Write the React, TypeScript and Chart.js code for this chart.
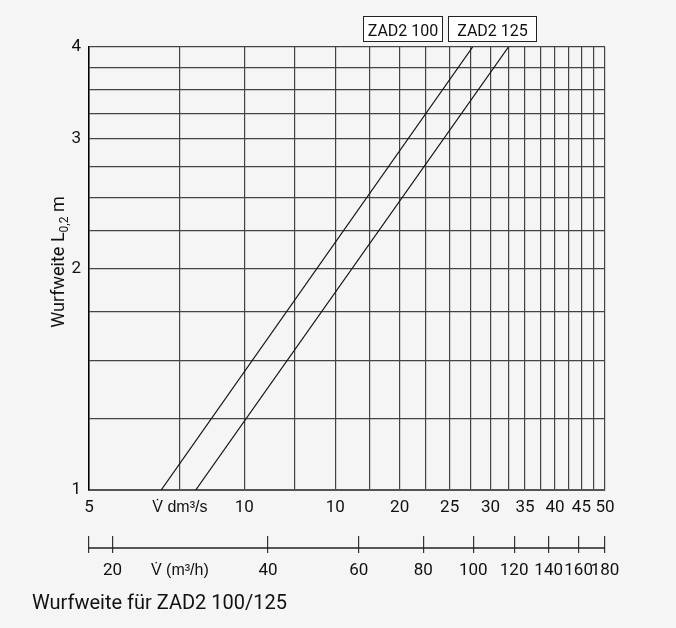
import { useEffect, useRef } from "react";
import { Chart, registerables } from "chart.js";

Chart.register(...registerables);

const FONT = "Roboto, 'Liberation Sans', sans-serif";
const DOT_FONT = "'Liberation Sans', 'DejaVu Sans', sans-serif";

// Flow rate (dm³/s) gridlines and labels
const flowGrid = [5, 7.5, 10, 12.5, 15, 17.5, 20, 22.5, 25, 27.5, 30, 32.5, 35, 37.5, 40, 42.5, 45, 47.5, 50];
const flowLabels = ["5", "V̇ dm³/s", "10", "", "10", "", "20", "", "25", "", "30", "", "35", "", "40", "", "45", "", "50"];

// Secondary flow axis (m³/h)
const m3hTicks = [18, 20, 27, 40, 60, 80, 100, 120, 140, 160, 180];
const m3hLabels = ["", "20", "V̇ (m³/h)", "40", "60", "80", "100", "120", "140", "160", "180"];

// Throw distance (m)
const throwGrid = [1, 1.25, 1.5, 1.75, 2, 2.25, 2.5, 2.75, 3, 3.25, 3.5, 3.75, 4];
const throwLabels = ["1", "", "", "", "2", "", "", "", "3", "", "", "", "4"];

// Series
const seriesNames = ["ZAD2 100", "ZAD2 125"];
const zad100 = [
  { x: 6.9, y: 1 },
  { x: 27.7, y: 4 },
];
const zad125 = [
  { x: 8.05, y: 1 },
  { x: 32.5, y: 4 },
];

const caption = "Wurfweite für ZAD2 100/125";

const decorPlugin = {
  id: "decor",
  beforeDraw(chart: any) {
    const ctx = chart.ctx;
    ctx.save();
    ctx.fillStyle = "#f5f5f5";
    ctx.fillRect(0, 0, chart.width, chart.height);
    ctx.restore();
  },
  afterDraw(chart: any) {
    const ctx = chart.ctx;
    const x2 = chart.scales.x2;
    const y = chart.scales.y;
    ctx.save();
    // secondary axis line
    ctx.strokeStyle = "#222";
    ctx.lineWidth = 1.6;
    ctx.beginPath();
    ctx.moveTo(x2.left - 1, x2.top + 12);
    ctx.lineTo(x2.right, x2.top + 12);
    ctx.stroke();

    // y axis title with subscript
    ctx.fillStyle = "#111";
    ctx.textBaseline = "alphabetic";
    const bigFont = "18px " + FONT;
    const smallFont = "12px " + FONT;
    ctx.font = bigFont;
    const p1 = "Wurfweite L";
    const p3 = " m";
    const w1 = ctx.measureText(p1).width;
    const w3 = ctx.measureText(p3).width;
    ctx.font = smallFont;
    const p2 = "0,2";
    const w2 = ctx.measureText(p2).width;
    const total = w1 + w2 + w3;
    ctx.translate(y.left + 64, 262);
    ctx.rotate(-Math.PI / 2);
    let cx = -total / 2;
    ctx.font = bigFont;
    ctx.fillText(p1, cx, 0);
    cx += w1;
    ctx.font = smallFont;
    ctx.fillText(p2, cx, 4);
    cx += w2;
    ctx.font = bigFont;
    ctx.fillText(p3, cx, 0);
    ctx.setTransform(1, 0, 0, 1, 0, 0);

    // series label boxes
    ctx.font = "16px " + FONT;
    ctx.textBaseline = "alphabetic";
    ctx.textAlign = "center";
    ctx.strokeStyle = "#222";
    ctx.lineWidth = 1;
    const b0x = 363;
    const b0w = 79;
    const b1x = 448;
    const b1w = 88;
    ctx.fillStyle = "#ffffff";
    ctx.fillRect(b0x, 16, b0w, 25);
    ctx.fillRect(b1x, 16, b1w, 25);
    ctx.strokeRect(b0x + 0.5, 16.5, b0w, 25);
    ctx.strokeRect(b1x + 0.5, 16.5, b1w, 25);
    ctx.fillStyle = "#111";
    ctx.fillText(seriesNames[0], b0x + b0w / 2 + 0.5, 36);
    ctx.fillText(seriesNames[1], b1x + b1w / 2 + 0.5, 36);

    // caption
    ctx.textAlign = "left";
    ctx.font = "20px " + FONT;
    ctx.fillStyle = "#111";
    ctx.fillText(caption, 32, 609);
    ctx.restore();
  },
};

export default function App() {
  const ref = useRef<HTMLCanvasElement | null>(null);
  useEffect(() => {
    if (!ref.current) return;
    const tickFont = { family: FONT, size: 17 };
    const labelFont = (labels: string[]) => (c: any) =>
      labels[c.index] && labels[c.index].indexOf("V") === 0
        ? { family: DOT_FONT, size: 16 }
        : tickFont;
    const chart = new Chart(ref.current, {
      type: "line",
      data: {
        datasets: [
          {
            label: seriesNames[0],
            data: zad100,
            borderColor: "#111",
            borderWidth: 1.2,
            pointRadius: 0,
            xAxisID: "x",
            yAxisID: "y",
          },
          {
            label: seriesNames[1],
            data: zad125,
            borderColor: "#111",
            borderWidth: 1.2,
            pointRadius: 0,
            xAxisID: "x",
            yAxisID: "y",
          },
        ],
      },
      options: {
        animation: false,
        responsive: false,
        layout: { padding: { left: 0, right: 71, top: 47, bottom: 42 } },
        plugins: {
          legend: { display: false },
          tooltip: { enabled: false },
        },
        scales: {
          x: {
            type: "logarithmic",
            position: "bottom",
            min: 5,
            max: 50,
            afterBuildTicks: (s: any) => {
              s.ticks = flowGrid.map((v) => ({ value: v }));
            },
            afterFit: (s: any) => {
              s.height = 46;
            },
            ticks: {
              autoSkip: false,
              maxRotation: 0,
              padding: 8,
              color: "#111",
              font: labelFont(flowLabels),
              callback: (_v: any, i: number) => flowLabels[i],
            },
            grid: { color: "#444", lineWidth: 1.2, drawTicks: false, tickLength: 0 },
            border: { color: "#555", width: 2 },
          },
          x2: {
            type: "logarithmic",
            position: "bottom",
            min: 18,
            max: 180,
            afterBuildTicks: (s: any) => {
              s.ticks = m3hTicks.map((v) => ({ value: v }));
            },
            afterFit: (s: any) => {
              s.height = 50;
            },
            ticks: {
              autoSkip: false,
              maxRotation: 0,
              padding: 8,
              color: "#111",
              font: labelFont(m3hLabels),
              callback: (_v: any, i: number) => m3hLabels[i],
            },
            grid: {
              drawOnChartArea: false,
              drawTicks: true,
              tickLength: 17,
              lineWidth: 1.2,
              color: (c: any) => (c.tick && c.tick.value === 27 ? "rgba(0,0,0,0)" : "#333"),
            },
            border: { display: false },
          },
          y: {
            type: "logarithmic",
            min: 1,
            max: 4,
            afterBuildTicks: (s: any) => {
              s.ticks = throwGrid.map((v) => ({ value: v }));
            },
            afterFit: (s: any) => {
              s.width = 89;
            },
            ticks: {
              autoSkip: false,
              padding: 8,
              color: "#111",
              font: tickFont,
              callback: (_v: any, i: number) => throwLabels[i],
            },
            grid: { color: "#444", lineWidth: 1.2, drawTicks: false, tickLength: 0 },
            border: { color: "#000", width: 1.5 },
          },
        },
      },
      plugins: [decorPlugin],
    } as any);
    return () => chart.destroy();
  }, []);

  return (
    <div
      style={{
        position: "fixed",
        left: 0,
        top: 0,
        width: 676,
        height: 628,
        background: "#f5f5f5",
      }}
    >
      <canvas ref={ref} width={676} height={628} style={{ display: "block" }} />
    </div>
  );
}
